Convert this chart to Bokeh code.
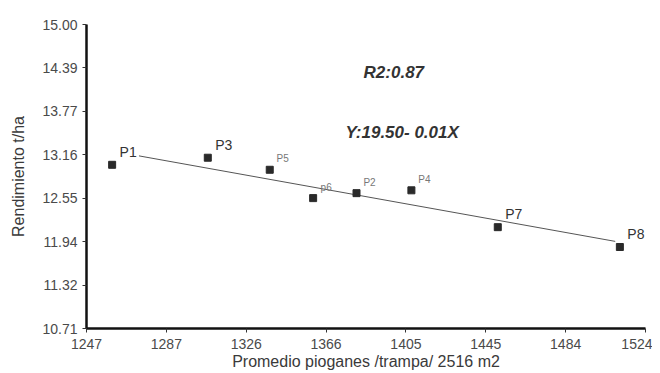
import numpy as np
from bokeh.plotting import figure
from bokeh.models import Range1d, FixedTicker, Label, ColumnDataSource
from bokeh.core.properties import value
from bokeh.embed import file_html
from bokeh.resources import INLINE

# ---- data ----
names = ["P1", "P3", "P5", "P6", "P2", "P4", "P7", "P8"]
label_text = ["P1", "P3", "P5", "p6", "P2", "P4", "P7", "P8"]
pioganes = [1259.7, 1307.1, 1337.8, 1359.3, 1380.8, 1408.0, 1450.8, 1511.3]
rendimiento = [13.02, 13.12, 12.95, 12.55, 12.62, 12.66, 12.14, 11.86]
big_labels = ["P1", "P3", "P7", "P8"]

fit_x_range = [1273.0, 1509.0]

x_min, x_max = 1247, 1524
y_min, y_max = 10.71, 15.00
x_tick_labels = ["1247", "1287", "1326", "1366", "1405", "1445", "1484", "1524"]
y_tick_labels = ["10.71", "11.32", "11.94", "12.55", "13.16", "13.77", "14.39", "15.00"]

r2_text = "R2:0.87"
eq_text = "Y:19.50- 0.01X"
x_title = "Promedio pioganes /trampa/ 2516 m2"
y_title = "Rendimiento t/ha"

FONT = "Liberation Sans"

p = figure(width=652, height=373, output_backend="svg", toolbar_location=None,
           x_range=Range1d(x_min, x_max), y_range=Range1d(y_min, y_max),
           min_border_left=86, min_border_right=7, min_border_top=24,
           min_border_bottom=45)
p.outline_line_color = None
p.xgrid.visible = False
p.ygrid.visible = False
p.background_fill_color = "white"
p.border_fill_color = "white"

xt = list(np.linspace(x_min, x_max, len(x_tick_labels)))
yt = list(np.linspace(y_min, y_max, len(y_tick_labels)))
p.xaxis.ticker = FixedTicker(ticks=xt)
p.yaxis.ticker = FixedTicker(ticks=yt)
p.xaxis.major_label_overrides = {t: l for t, l in zip(xt, x_tick_labels)}
p.yaxis.major_label_overrides = {t: l for t, l in zip(yt, y_tick_labels)}

for ax in (p.xaxis, p.yaxis):
    ax.axis_line_width = 2.5
    ax.axis_line_color = "#111111"
    ax.major_tick_line_color = "#333333"
    ax.major_tick_in = 0
    ax.major_tick_out = 4
    ax.minor_tick_line_color = None
    ax.major_label_text_font = FONT
    ax.major_label_text_font_size = "14px"
    ax.major_label_text_color = "#4a4a4a"
    ax.axis_label_text_font = FONT
    ax.axis_label_text_font_size = "16px"
    ax.axis_label_text_font_style = "normal"
    ax.axis_label_text_color = "#3a3a3a"

p.xaxis.axis_label = x_title
p.yaxis.axis_label = y_title
p.xaxis.major_label_standoff = 6
p.xaxis.axis_label_standoff = 1
p.yaxis.major_label_standoff = 5
p.yaxis.axis_label_standoff = 12

# regression line fitted from the points
slope, intercept = np.polyfit(pioganes, rendimiento, 1)
fx = np.array(fit_x_range)
p.line(fx, intercept + slope * fx, line_color="#555555", line_width=1)

p.scatter(pioganes, rendimiento, marker="square", size=7,
          fill_color="#2a2a2a", line_color="#2a2a2a")

big = [i for i, n in enumerate(names) if n in big_labels]
small = [i for i, n in enumerate(names) if n not in big_labels]
src_big = ColumnDataSource(dict(x=[pioganes[i] for i in big],
                                y=[rendimiento[i] for i in big],
                                t=[label_text[i] for i in big]))
src_small = ColumnDataSource(dict(x=[pioganes[i] for i in small],
                                  y=[rendimiento[i] for i in small],
                                  t=[label_text[i] for i in small]))
p.text(x="x", y="y", text="t", source=src_big, x_offset=16, y_offset=-13,
       text_align="center", text_baseline="middle",
       text_font=value(FONT), text_font_size="14px", text_color="#333333")
p.text(x="x", y="y", text="t", source=src_small, x_offset=13, y_offset=-11,
       text_align="center", text_baseline="middle",
       text_font=value(FONT), text_font_size="10px", text_color="#777777")

p.add_layout(Label(x=1384.3, y=14.32, text=r2_text, text_align="left",
                   text_baseline="middle", text_font=FONT, text_font_size="17px",
                   text_font_style="bold italic", text_color="#333333"))
p.add_layout(Label(x=1375.3, y=13.48, text=eq_text, text_align="left",
                   text_baseline="middle", text_font=FONT, text_font_size="17px",
                   text_font_style="bold italic", text_color="#333333"))

open("out.html", "w").write(file_html(p, INLINE))
